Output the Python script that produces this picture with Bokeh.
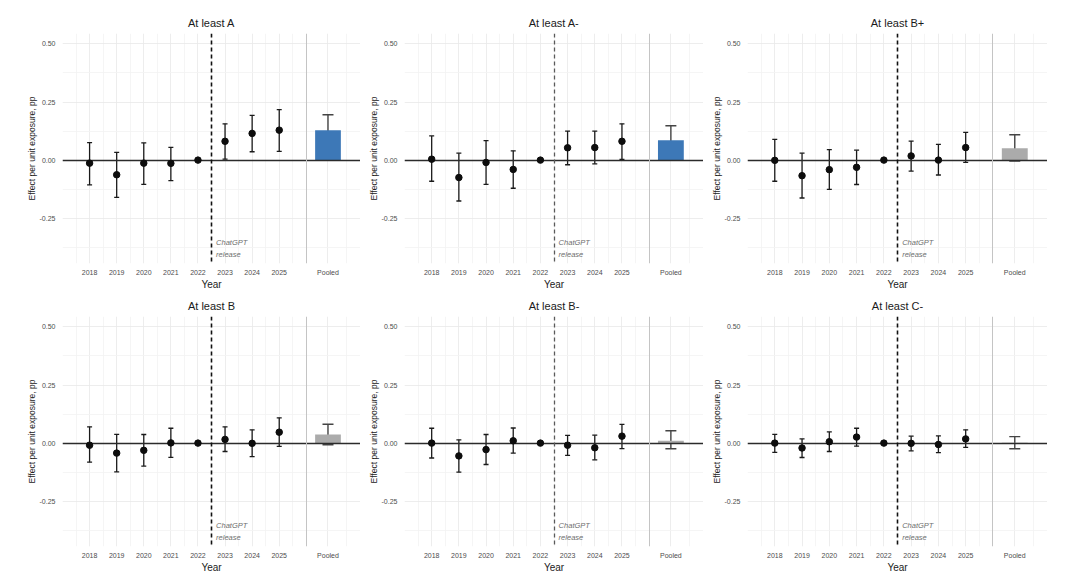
from bokeh.plotting import figure
from bokeh.models import Range1d, FixedTicker, PrintfTickFormatter, ColumnDataSource, Whisker, TeeHead
from bokeh.layouts import row, column
from bokeh.core.properties import value
from bokeh.embed import file_html
from bokeh.resources import INLINE

# ---------------- data ----------------
titles = ["At least A", "At least A-", "At least B+", "At least B", "At least B-", "At least C-"]
years = ["2018", "2019", "2020", "2021", "2022", "2023", "2024", "2025"]
pooled_label = "Pooled"

est_a  = [-0.013, -0.063, -0.013, -0.014, 0.0, 0.081, 0.115, 0.129]
lo_a   = [-0.107, -0.160, -0.104, -0.088, 0.0, 0.004, 0.036, 0.038]
hi_a   = [0.075, 0.033, 0.074, 0.055, 0.0, 0.156, 0.193, 0.217]

est_am = [0.004, -0.075, -0.010, -0.040, 0.0, 0.053, 0.054, 0.081]
lo_am  = [-0.091, -0.176, -0.104, -0.121, 0.0, -0.020, -0.016, 0.003]
hi_am  = [0.104, 0.030, 0.084, 0.040, 0.0, 0.125, 0.125, 0.156]

est_bp = [-0.001, -0.067, -0.041, -0.031, 0.0, 0.018, 0.000, 0.054]
lo_bp  = [-0.091, -0.163, -0.126, -0.105, 0.0, -0.047, -0.064, -0.010]
hi_bp  = [0.089, 0.030, 0.045, 0.043, 0.0, 0.082, 0.068, 0.119]

est_b  = [-0.009, -0.043, -0.031, 0.001, 0.0, 0.016, -0.001, 0.047]
lo_b   = [-0.082, -0.124, -0.099, -0.061, 0.0, -0.036, -0.058, -0.014]
hi_b   = [0.070, 0.038, 0.037, 0.064, 0.0, 0.070, 0.057, 0.109]

est_bm = [0.000, -0.055, -0.028, 0.010, 0.0, -0.009, -0.020, 0.030]
lo_bm  = [-0.064, -0.125, -0.092, -0.043, 0.0, -0.053, -0.072, -0.024]
hi_bm  = [0.064, 0.014, 0.037, 0.065, 0.0, 0.033, 0.034, 0.081]

est_cm = [0.000, -0.021, 0.006, 0.026, 0.0, -0.001, -0.006, 0.018]
lo_cm  = [-0.040, -0.062, -0.036, -0.013, 0.0, -0.033, -0.041, -0.018]
hi_cm  = [0.038, 0.018, 0.048, 0.064, 0.0, 0.030, 0.031, 0.057]

pooled_est = [0.129, 0.085, 0.051, 0.037, 0.010, 0.002]
pooled_lo  = [0.065, 0.027, -0.004, -0.007, -0.024, -0.024]
pooled_hi  = [0.195, 0.148, 0.109, 0.081, 0.053, 0.028]

annot_text = ["ChatGPT", "release"]

panels = [(est_a, lo_a, hi_a), (est_am, lo_am, hi_am), (est_bp, lo_bp, hi_bp),
          (est_b, lo_b, hi_b), (est_bm, lo_bm, hi_bm), (est_cm, lo_cm, hi_cm)]

# ---------------- styles ----------------
BLUE = "#3D78B7"
GREY = "#ABABAB"
pooled_colors = [BLUE, BLUE, GREY, GREY, GREY, GREY]
FONT = "Liberation Sans"
POOLED_X = 8.8
RELEASE_X = 4.5
SEP_X = 8.0


def make_panel(i, width, left, height, top):
    est, lo, hi = panels[i]
    xs = list(range(len(years)))
    p = figure(width=width, height=height, x_range=Range1d(-1.0, 10.0), y_range=Range1d(-0.445, 0.545),
               output_backend="svg", toolbar_location=None, title=titles[i],
               min_border_left=left, min_border_right=0, min_border_top=top, min_border_bottom=26)
    p.outline_line_color = None
    p.background_fill_color = "white"
    p.border_fill_color = "white"

    p.title.text_font = FONT
    p.title.text_font_size = "11px"
    p.title.text_font_style = "normal"
    p.title.text_color = "#1a1a1a"
    p.title.align = "center"
    p.title.standoff = 9

    xt = FixedTicker(ticks=xs + [POOLED_X],
                     minor_ticks=[-0.5, 0.5, 1.5, 2.5, 3.5, 4.5, 5.5, 6.5, 7.5, 9.5])
    p.xaxis.ticker = xt
    p.xgrid.ticker = xt
    overrides = {x: y for x, y in zip(xs, years)}
    overrides[POOLED_X] = pooled_label
    p.xaxis.major_label_overrides = overrides
    yt = FixedTicker(ticks=[-0.25, 0.0, 0.25, 0.5], minor_ticks=[-0.375, -0.125, 0.125, 0.375])
    p.yaxis.ticker = yt
    p.ygrid.ticker = yt
    p.yaxis.formatter = PrintfTickFormatter(format="%.2f")

    for ax in (p.xaxis, p.yaxis):
        ax.axis_line_color = None
        ax.major_tick_line_color = None
        ax.minor_tick_line_color = None
        ax.major_tick_out = 0
        ax.major_tick_in = 0
        ax.minor_tick_out = 0
        ax.minor_tick_in = 0
        ax.major_label_text_font = FONT
        ax.major_label_text_font_size = "7px"
        ax.major_label_text_color = "#4d4d4d"
        ax.axis_label_text_font = FONT
        ax.axis_label_text_font_style = "normal"
        ax.axis_label_text_color = "#222222"
    p.xaxis.axis_label = "Year"
    p.xaxis.axis_label_text_font_size = "10px"
    p.xaxis.major_label_standoff = 5
    p.xaxis.axis_label_standoff = 0
    p.yaxis.axis_label = "Effect per unit exposure, pp"
    p.yaxis.axis_label_text_font_size = "8.5px"
    p.yaxis.major_label_standoff = 7
    p.yaxis.axis_label_standoff = 0

    for g in (p.xgrid, p.ygrid):
        g.grid_line_color = "#e8e8e8"
        g.grid_line_width = 0.8
        g.minor_grid_line_color = "#f3f3f3"
        g.minor_grid_line_width = 0.8

    # pooled bar
    p.vbar(x=[POOLED_X], top=[pooled_est[i]], bottom=0, width=0.95,
           fill_color=pooled_colors[i], line_color=None)

    # reference lines
    p.hspan(y=[0.0], line_color="#2b2b2b", line_width=1.3)
    p.vspan(x=[SEP_X], line_color="#c4c4c4", line_width=1.0)
    dash_col = "#5a5a5a" if i in (1, 4) else "#111111"
    dash_w = 1.3 if i in (1, 4) else 1.6
    p.vspan(x=[RELEASE_X], line_color=dash_col, line_width=dash_w, line_dash="4 3")

    # yearly error bars (skip reference year with zero-width interval)
    keep = [k for k in xs if hi[k] != lo[k]]
    src = ColumnDataSource(dict(x=[xs[k] for k in keep], lo=[lo[k] for k in keep], hi=[hi[k] for k in keep]))
    w = Whisker(base="x", lower="lo", upper="hi", source=src, line_color="#1a1a1a", line_width=1.3,
                upper_head=TeeHead(size=5, line_color="#1a1a1a", line_width=1.3),
                lower_head=TeeHead(size=5, line_color="#1a1a1a", line_width=1.3))
    p.add_layout(w)

    # pooled error bar
    psrc = ColumnDataSource(dict(x=[POOLED_X], lo=[pooled_lo[i]], hi=[pooled_hi[i]]))
    pw = Whisker(base="x", lower="lo", upper="hi", source=psrc, line_color="#444444", line_width=1.4,
                 upper_head=TeeHead(size=11, line_color="#444444", line_width=1.4),
                 lower_head=TeeHead(size=11, line_color="#444444", line_width=1.4))
    p.add_layout(pw)

    # points
    p.scatter(x=xs, y=est, size=6.5, marker="circle", fill_color="#0d0d0d", line_color="#0d0d0d")

    # annotation
    p.text(x=[RELEASE_X + 0.17, RELEASE_X + 0.17], y=[-0.354, -0.405], text=annot_text,
           text_font=value(FONT), text_font_style="italic", text_font_size="7.5px",
           text_color="#6e6e6e", text_baseline="middle", text_align="left")
    return p


widths = [360, 343, 344]
lefts = [62, 44, 44]
top_row = row(*[make_panel(j, widths[j], lefts[j], 292, 33) for j in range(3)])
bottom_row = row(*[make_panel(3 + j, widths[j], lefts[j], 283, 24) for j in range(3)])
layout = column(top_row, bottom_row)

open("out.html", "w").write(file_html(layout, INLINE))
